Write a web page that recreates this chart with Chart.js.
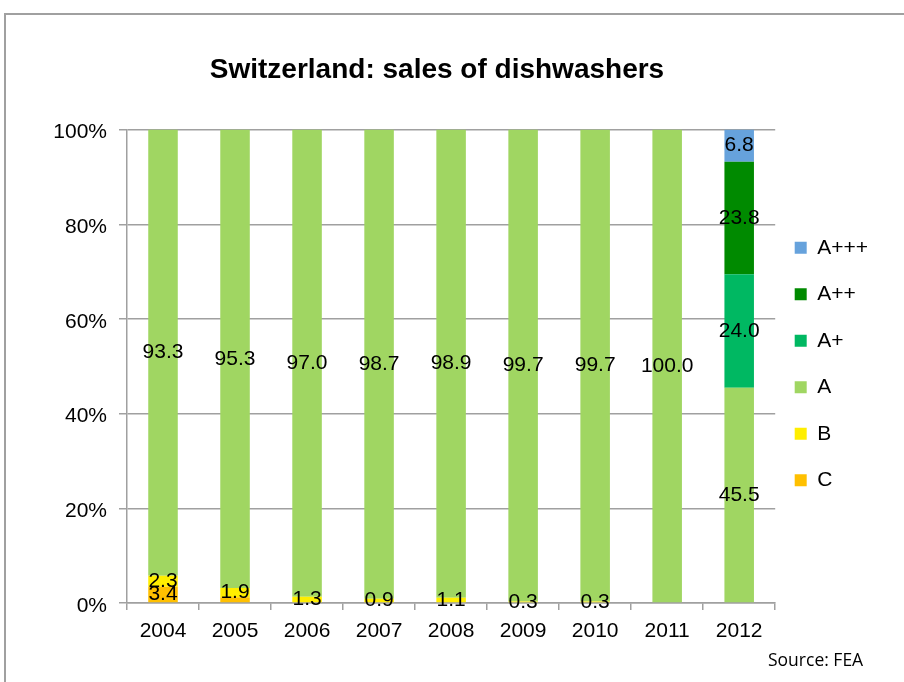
<!DOCTYPE html>
<html><head><meta charset="utf-8">
<script src="https://cdn.jsdelivr.net/npm/chart.js@4.4.0/dist/chart.umd.min.js"></script>
<style>
html,body{margin:0;padding:0;background:#fff;width:904px;height:682px;overflow:hidden;}
#frame{position:absolute;left:4px;top:13px;width:910px;height:700px;border-top:2px solid #a0a0a0;border-left:2px solid #a0a0a0;}
#wrap{position:absolute;left:-10px;top:14px;width:895px;height:668px;}
#src{position:absolute;left:768px;top:649px;font-family:'Open Sans',sans-serif;font-size:17.5px;color:#000;line-height:20px;white-space:nowrap;}
</style></head><body>
<div id="frame"></div>
<div id="wrap"><canvas id="c" width="895" height="668"></canvas></div>
<div id="src">Source: FEA</div>
<script>
// ---- data ----
const years = ['2004','2005','2006','2007','2008','2009','2010','2011','2012'];
const seriesNames = ['C','B','A','A+','A++','A+++'];
const seriesColors = ['#ffc000','#ffee00','#a0d662','#00b862','#008a00','#66a2dc'];
const valC    = [3.4, 1.2, 0, 0, 0, 0, 0, 0, 0];
const valB    = [2.3, 1.9, 1.3, 0.9, 1.1, 0.3, 0.3, 0, 0];
const valA    = [93.3, 95.3, 97.0, 98.7, 98.9, 99.7, 99.7, 100.0, 45.5];
const valAp   = [0, 0, 0, 0, 0, 0, 0, 0, 24.0];
const valApp  = [0, 0, 0, 0, 0, 0, 0, 0, 23.8];
const valAppp = [0, 0, 0, 0, 0, 0, 0, 0, 6.8];
const labelShownC = [true, false, false, false, false, false, false, false, false];
const yTicks = [0, 20, 40, 60, 80, 100];

const FONT = "'Liberation Sans', Arial, sans-serif";
const seriesVals = [valC, valB, valA, valAp, valApp, valAppp];
const totals = years.map((_, i) => seriesVals.reduce((s, arr) => s + arr[i], 0));

const datasets = seriesVals.map((vals, k) => ({
  label: seriesNames[k],
  data: vals.map((v, i) => v / totals[i] * 100),   // 100% stacked
  rawValues: vals,
  shown: k === 0 ? labelShownC : vals.map(() => true),
  backgroundColor: seriesColors[k],
  borderWidth: 0,
  barPercentage: 0.41,
  categoryPercentage: 1.0
}));

const valueLabels = {
  id: 'valueLabels',
  afterDatasetsDraw(chart) {
    const ctx = chart.ctx;
    ctx.save();
    ctx.font = '21px ' + FONT;
    ctx.fillStyle = '#000';
    ctx.textAlign = 'center';
    ctx.textBaseline = 'middle';
    chart.data.datasets.forEach((ds, di) => {
      const meta = chart.getDatasetMeta(di);
      meta.data.forEach((bar, i) => {
        const raw = ds.rawValues[i];
        if (!raw || !ds.shown[i]) return;
        ctx.fillText(raw.toFixed(1), bar.x, (bar.y + bar.base) / 2);
      });
    });
    ctx.restore();
  }
};

const legendNudge = {
  id: 'legendNudge',
  afterLayout(chart) {
    const l = chart.legend;
    if (!l) return;
    l.left -= 6; l.right -= 6;
    l.top += 16; l.bottom += 16;
  }
};

new Chart(document.getElementById('c'), {
  type: 'bar',
  data: { labels: years, datasets },
  options: {
    responsive: false,
    animation: false,
    layout: { padding: { left: 0, right: 1, top: 0, bottom: 0 } },
    plugins: {
      title: {
        display: true,
        text: 'Switzerland: sales of dishwashers',
        color: '#000',
        font: { family: FONT, size: 28, weight: 'bold' },
        padding: { top: 39, bottom: 43 }
      },
      legend: {
        position: 'right',
        reverse: true,
        labels: {
          color: '#000',
          font: { family: FONT, size: 21 },
          usePointStyle: true,
          pointStyle: 'rect',
          boxWidth: 12,
          boxHeight: 12,
          padding: 25.5
        }
      },
      tooltip: { enabled: false }
    },
    scales: {
      x: {
        stacked: true,
        grid: { display: true, drawOnChartArea: false, drawTicks: true, tickLength: 7, color: '#a0a0a0', lineWidth: 1.5, offset: true },
        border: { display: true, color: '#a0a0a0', width: 1.5 },
        ticks: { color: '#000', font: { family: FONT, size: 21 }, padding: 9, maxRotation: 0 },
        afterFit(scale) { scale.height = 79; }
      },
      y: {
        stacked: true,
        min: 0, max: 100,
        afterBuildTicks(scale) { scale.ticks = yTicks.map(v => ({ value: v })); },
        grid: { color: '#a0a0a0', lineWidth: 1.5, tickLength: 8, drawTicks: true },
        border: { display: true, color: '#a0a0a0', width: 1.5 },
        ticks: { color: '#000', font: { family: FONT, size: 21 }, padding: 12, labelOffset: 3, callback: v => v + '%' },
        afterFit(scale) { scale.width = 137; }
      }
    }
  },
  plugins: [valueLabels, legendNudge]
});
</script>
</body></html>
